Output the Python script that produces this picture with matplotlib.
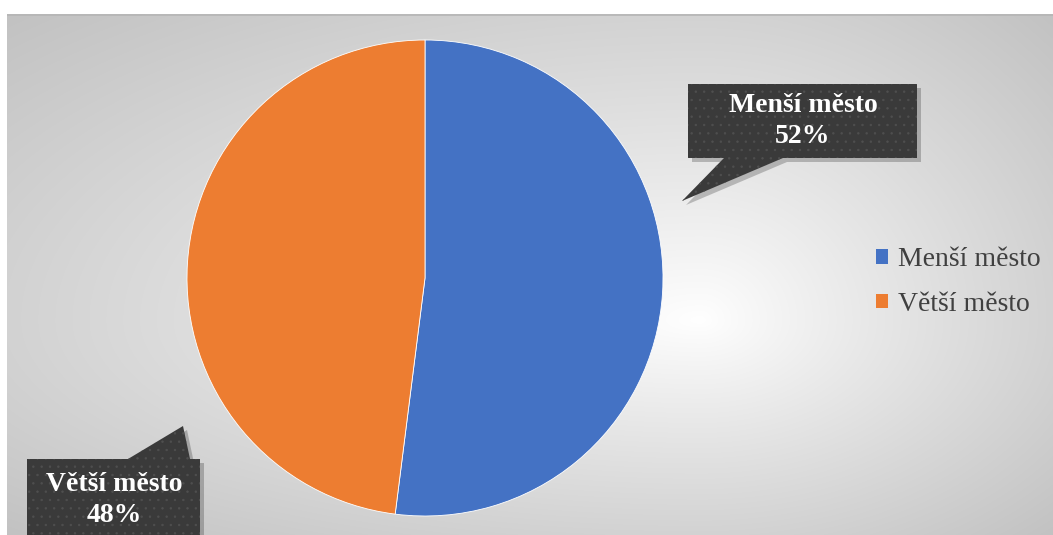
import numpy as np
import matplotlib.pyplot as plt
from matplotlib.patches import Polygon, Patch

labels = ['Menší město', 'Větší město']
values = [52, 48]
colors = ['#4472C4', '#ED7D31']

W, H = 1053, 535
plt.rcParams['font.family'] = ['Liberation Serif', 'DejaVu Serif']
plt.rcParams['hatch.color'] = '#4f4f4f'
plt.rcParams['hatch.linewidth'] = 0.5

fig = plt.figure(figsize=(W / 100, H / 100), dpi=100)
fig.patch.set_facecolor('white')

# background with gradient (chart area starts at x=7, y=14)
bg = fig.add_axes([7 / W, 0, (W - 7) / W, (H - 14) / H])
bg.set_axis_off()
yy, xx = np.mgrid[14:H, 7:W].astype(float)
cx, cy = 700.0, 320.0
dx = np.where(xx < cx, (cx - xx) / (cx - 7), (xx - cx) / (W - cx))
dy = np.where(yy < cy, (cy - yy) / (cy - 14), (yy - cy) / (H - cy))
t = np.clip(np.sqrt(dx ** 2 + dy ** 2) / np.sqrt(2), 0, 1) ** 0.9
g = 1.0 - t * (1.0 - 0.76)
bg.imshow(np.dstack([g, g, g]), extent=[7, W, H, 14], aspect='auto', interpolation='bilinear')
bg.set_xlim(7, W)
bg.set_ylim(H, 14)
bg.plot([7, W], [14.5, 14.5], color='#b5b5b5', lw=1.2)

# pie
cxp, cyp, r = 425, 278, 238
ax = fig.add_axes([(cxp - r) / W, (H - cyp - r) / H, 2 * r / W, 2 * r / H])
wedges, _ = ax.pie(values, colors=colors, startangle=90, counterclock=False,
                   wedgeprops=dict(edgecolor='white', linewidth=0.6))
ax.set_xlim(-1, 1)
ax.set_ylim(-1, 1)
ax.set_aspect('equal')

# callouts overlay in pixel coords
ov = fig.add_axes([0, 0, 1, 1])
ov.set_xlim(0, W)
ov.set_ylim(H, 0)
ov.set_axis_off()

def callout(pts, txt, tx, ty):
    shadow = Polygon([(x + 4, y + 4) for x, y in pts], closed=True,
                     facecolor='black', alpha=0.22, edgecolor='none')
    ov.add_patch(shadow)
    p = Polygon(pts, closed=True, facecolor='#3a3a3a', edgecolor='#4f4f4f',
                hatch='..', linewidth=0)
    ov.add_patch(p)
    ov.text(tx, ty, txt, color='white', fontsize=20, fontweight='bold',
            ha='center', va='center', linespacing=1.35)

callout([(688, 84), (917, 84), (917, 158), (783, 158), (682, 201), (724, 158), (688, 158)],
        f'{labels[0]}\n{values[0]}%', 803, 121)
callout([(27, 459), (128, 459), (183, 426), (190, 459), (200, 459), (200, 540), (27, 540)],
        f'{labels[1]}\n{values[1]}%', 114, 500)

handles = [Patch(facecolor=c, edgecolor='none') for c in colors]
fig.legend(handles, labels, loc='center left', bbox_to_anchor=(851 / W, 1 - 282 / H),
           frameon=False, fontsize=20, handlelength=0.42, handleheight=0.42,
           handletextpad=0.36, labelspacing=0.7, labelcolor='#404040')

fig.savefig('out.png', dpi=100)
